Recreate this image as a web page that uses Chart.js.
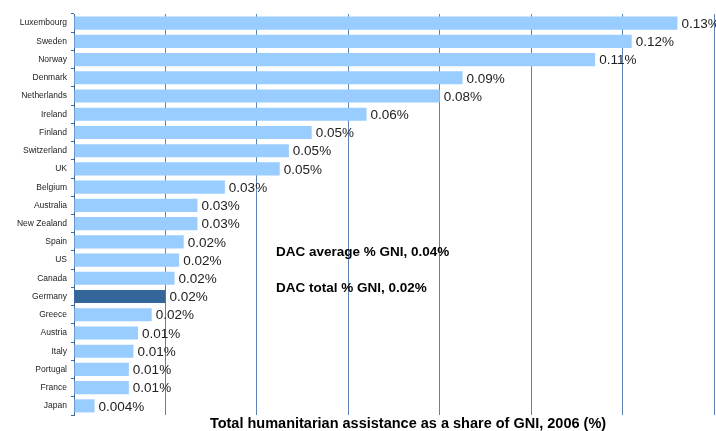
<!DOCTYPE html>
<html>
<head>
<meta charset="utf-8">
<script src="https://cdn.jsdelivr.net/npm/chart.js@4/dist/chart.umd.min.js"></script>
<style>
  html, body { margin: 0; padding: 0; background: #fff; }
  #wrap { width: 716px; height: 431px; }
</style>
</head>
<body>
<div id="wrap"><canvas id="myChart" width="716" height="431"></canvas></div>
<script>
'use strict';

// countries, top to bottom
var countries = ['Luxembourg', 'Sweden', 'Norway', 'Denmark', 'Netherlands', 'Ireland',
  'Finland', 'Switzerland', 'UK', 'Belgium', 'Australia', 'New Zealand', 'Spain', 'US',
  'Canada', 'Germany', 'Greece', 'Austria', 'Italy', 'Portugal', 'France', 'Japan'];

// humanitarian assistance as % of GNI
var shareGNI = [0.132, 0.122, 0.114, 0.085, 0.080, 0.064, 0.052, 0.047, 0.045, 0.033,
  0.027, 0.027, 0.024, 0.023, 0.022, 0.020, 0.017, 0.014, 0.013, 0.012, 0.012, 0.0045];

// labels as printed on the chart
var valueLabels = ['0.13%', '0.12%', '0.11%', '0.09%', '0.08%', '0.06%', '0.05%', '0.05%',
  '0.05%', '0.03%', '0.03%', '0.03%', '0.02%', '0.02%', '0.02%', '0.02%', '0.02%', '0.01%',
  '0.01%', '0.01%', '0.01%', '0.004%'];

var highlight = 'Germany';
var notes = ['DAC average % GNI, 0.04%', 'DAC total % GNI, 0.02%'];
var axisTitle = 'Total humanitarian assistance as a share of GNI, 2006 (%)';

var barColors = countries.map(function (c) {
  return c === highlight ? '#336699' : '#99CCFF';
});

// value labels, notes and bottom title
var textPlugin = {
  id: 'textPlugin',
  afterDatasetsDraw: function (chart) {
    var ctx = chart.ctx;
    var meta = chart.getDatasetMeta(0);
    var area = chart.chartArea;
    var yScale = chart.scales.y;
    ctx.save();
    ctx.fillStyle = '#222';
    ctx.font = '13.5px Arial, "Liberation Sans", sans-serif';
    ctx.textAlign = 'left';
    ctx.textBaseline = 'middle';
    meta.data.forEach(function (bar, i) {
      ctx.fillText(valueLabels[i], bar.x + 4, bar.y + 1);
    });

    ctx.fillStyle = '#000';
    ctx.font = 'bold 13.5px Arial, "Liberation Sans", sans-serif';
    var nx = area.left + 202;
    ctx.fillText(notes[0], nx, (yScale.getPixelForValue(12) + yScale.getPixelForValue(13)) / 2 + 1);
    ctx.fillText(notes[1], nx, (yScale.getPixelForValue(14) + yScale.getPixelForValue(15)) / 2 + 1);

    ctx.font = 'bold 14.5px Arial, "Liberation Sans", sans-serif';
    ctx.textAlign = 'center';
    ctx.fillText(axisTitle, (area.left + area.right) / 2 + 14, area.bottom + 9);
    ctx.restore();
  }
};

var ctx = document.getElementById('myChart').getContext('2d');
var myChart = new Chart(ctx, {
  type: 'bar',
  data: {
    labels: countries,
    datasets: [{
      data: shareGNI,
      backgroundColor: barColors,
      borderWidth: 0,
      categoryPercentage: 1,
      barPercentage: 0.72
    }]
  },
  options: {
    indexAxis: 'y',
    responsive: false,
    animation: false,
    layout: { padding: { top: 14, right: 2, bottom: 16, left: 0 } },
    plugins: {
      legend: { display: false },
      tooltip: { enabled: false }
    },
    scales: {
      x: {
        min: 0,
        max: 0.14,
        ticks: { display: false, stepSize: 0.02 },
        grid: { color: '#5B82B4', lineWidth: 1, drawTicks: false },
        border: { display: false }
      },
      y: {
        afterFit: function (scale) { scale.width = 74; },
        ticks: {
          color: '#222',
          padding: 4,
          font: { family: 'Arial, "Liberation Sans", sans-serif', size: 8.5 }
        },
        grid: { offset: true, drawOnChartArea: false, drawTicks: true, tickLength: 3, color: '#3E6A9E' },
        border: { display: true, color: '#3E6A9E', width: 1 }
      }
    }
  },
  plugins: [textPlugin]
});
</script>
</body>
</html>
